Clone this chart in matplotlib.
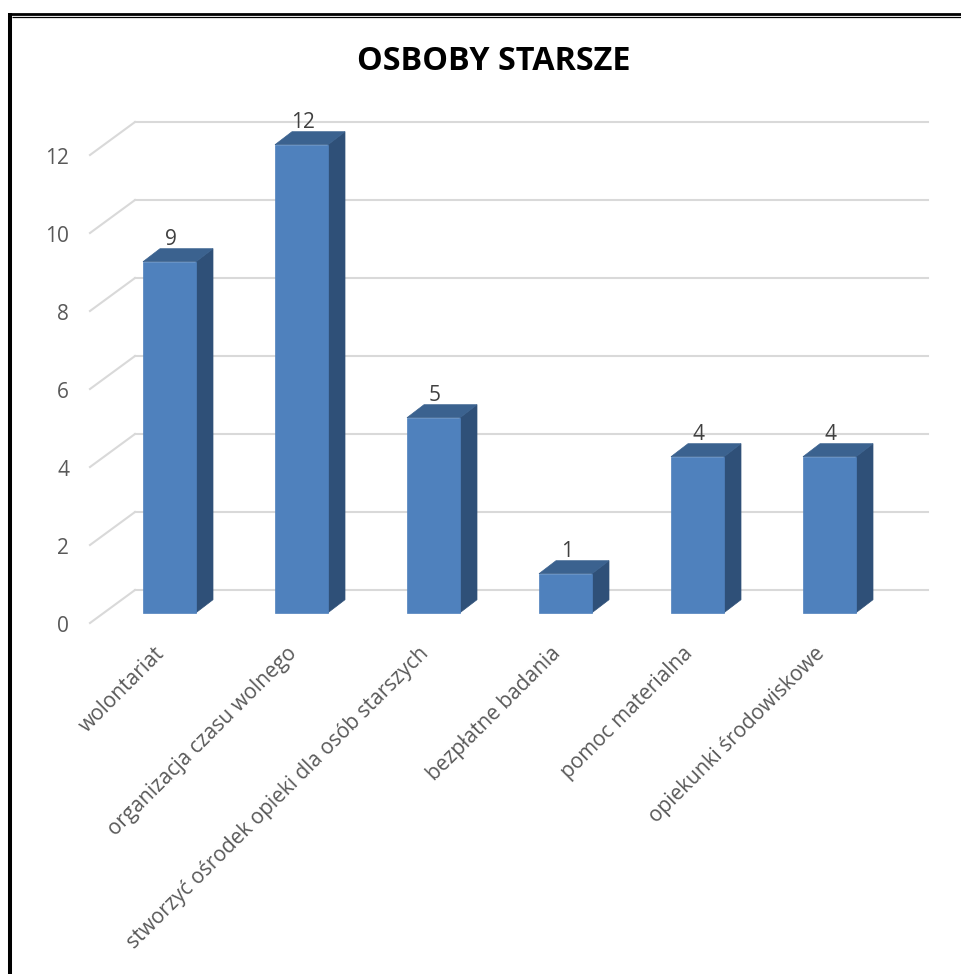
#!/usr/bin/env python3
# -*- coding: utf-8 -*-
import matplotlib
matplotlib.use("Agg")
import matplotlib.pyplot as plt
from matplotlib.patches import Polygon

TITLE = "OSBOBY STARSZE"
CATEGORIES = [
    "wolontariat",
    "organizacja czasu wolnego",
    "stworzyć ośrodek opieki dla osób starszych",
    "bezpłatne badania",
    "pomoc materialna",
    "opiekunki środowiskowe",
]
VALUES = [9, 12, 5, 1, 4, 4]
Y_TICKS = [0, 2, 4, 6, 8, 10, 12]

W, H = 962, 974
FRONT = "#4F81BD"
TOP = "#3B628F"
SIDE = "#2F5078"
GRID = "#D9D9D9"
TEXT = "#595959"
PX_X = 132.0  # pixels per category
PX_Y = 39.0   # pixels per y unit

plt.rcParams["font.family"] = ["Open Sans", "DejaVu Sans"]

fig = plt.figure(figsize=(W / 100, H / 100), dpi=100)
ax = fig.add_axes([135 / W, 1 - 590 / H, (928 - 135) / W, (590 - 122) / H])
ax.set_xlim((135 - 169.5) / PX_X, (928 - 169.5) / PX_X)
ax.set_ylim(0, 12)
ax.axis("off")


def dx(px):
    return px / PX_X


def dy(px):
    return px / PX_Y


# back wall + slanted floor lines
x0, x1 = ax.get_xlim()
for v in Y_TICKS:
    ax.plot([x0, x1], [v, v], color=GRID, lw=1.5, clip_on=False, zorder=1)
    ax.plot([x0, x0 - dx(45)], [v, v - dy(33)], color=GRID, lw=1.5, clip_on=False, zorder=1)
    ax.text(x0 - dx(66), v - dy(36), str(v), color=TEXT, fontsize=15,
            ha="right", va="center", clip_on=False)

# oblique bars
half = dx(26.5)
off_y = dy(22.7)
dep_x, dep_y = dx(17), dy(13)
for i, (name, val) in enumerate(zip(CATEGORIES, VALUES)):
    xl, xr = i - half, i + half
    y0, y1 = -off_y, val - off_y
    ax.add_patch(Polygon([(xr, y0), (xr + dep_x, y0 + dep_y), (xr + dep_x, y1 + dep_y), (xr, y1)],
                         facecolor=SIDE, edgecolor=SIDE, lw=0.5, clip_on=False, zorder=3))
    ax.add_patch(Polygon([(xl, y1), (xl + dep_x, y1 + dep_y), (xr + dep_x, y1 + dep_y), (xr, y1)],
                         facecolor=TOP, edgecolor=TOP, lw=0.5, clip_on=False, zorder=3))
    ax.add_patch(Polygon([(xl, y0), (xr, y0), (xr, y1), (xl, y1)],
                         facecolor=FRONT, edgecolor=FRONT, lw=0.5, clip_on=False, zorder=4))
    ax.text(i + dx(1.5), y1 + dep_y - dy(1), str(val), color="#404040", fontsize=15,
            ha="center", va="bottom", clip_on=False, zorder=5)
    ax.text(i - dx(15), -off_y - dy(30), name, color=TEXT, fontsize=15, rotation=45,
            rotation_mode="anchor", ha="right", va="top", clip_on=False)

fig.text(494 / W, 1 - 62 / H, TITLE, color="black", fontsize=23.3, fontweight="bold",
         ha="center", va="center")

# outer frame, only top and left
frame = fig.add_axes([0, 0, 1, 1], facecolor="none")
frame.set_xlim(0, W)
frame.set_ylim(H, 0)
frame.axis("off")
frame.plot([8, W], [14, 14], color="black", lw=2.0, solid_capstyle="butt")
frame.plot([12, W], [17, 17], color="black", lw=0.9, solid_capstyle="butt")
frame.plot([10, 10], [13, H], color="black", lw=2.9, solid_capstyle="butt")

fig.savefig("out.png", dpi=100)
plt.close(fig)
